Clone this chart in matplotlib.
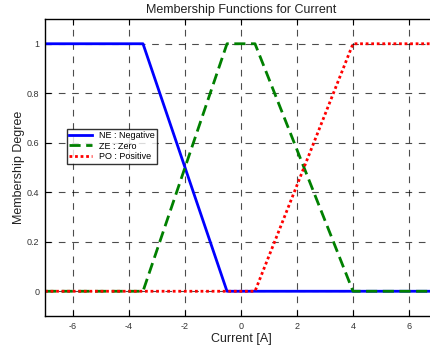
import matplotlib
matplotlib.use("Agg")
import matplotlib.pyplot as plt
import numpy as np

x_ne = [-7, -3.5, -0.5, 7]
y_ne = [1, 1, 0, 0]
x_ze = [-7, -3.5, -0.5, 0.5, 4, 7]
y_ze = [0, 0, 1, 1, 0, 0]
x_po = [-7, 0.5, 4, 7]
y_po = [0, 0, 1, 1]
labels = ["NE : Negative", "ZE : Zero", "PO : Positive"]

plt.rcParams["font.family"] = ["Liberation Sans", "DejaVu Sans"]
plt.rcParams["axes.unicode_minus"] = False

W, H = 430, 350
fig = plt.figure(figsize=(W/100, H/100), dpi=100)
ax = fig.add_axes([45/W, 1-316/H, (437-45)/W, (316-19)/H])
ax.plot(x_ne, y_ne, color="#0000ff", lw=2, ls="-", label=labels[0])
ax.plot(x_ze, y_ze, color="#008000", lw=2, ls=(0, (4, 2)), label=labels[1])
ax.plot(x_po, y_po, color="#ff0000", lw=2, ls=(0, (1, 1)), label=labels[2])
ax.set_xlim(-7, 7)
ax.set_ylim(-0.1, 1.1)
ax.set_xticks([-6, -4, -2, 0, 2, 4, 6])
ax.set_yticks([0, 0.2, 0.4, 0.6, 0.8, 1])
ax.set_yticklabels(["0", "0.2", "0.4", "0.6", "0.8", "1"])
ax.grid(True, color="black", ls=(0, (6, 6)), lw=0.8, alpha=0.7)
ax.tick_params(direction="in", top=True, right=True, labelsize=6.5, length=4, pad=4,
               labelcolor="#333333")
for s in ax.spines.values():
    s.set_linewidth(1)
ax.set_title("Membership Functions for Current", fontsize=9, pad=4, color="#222222")
ax.set_xlabel("Current [A]", fontsize=9, labelpad=2, color="#222222")
ax.set_ylabel("Membership Degree", fontsize=9, color="#222222", labelpad=1)
leg = ax.legend(loc="upper left", bbox_to_anchor=((62-45)/392, 1-(124-19)/297),
                fontsize=6.5, frameon=True, fancybox=False, edgecolor="black",
                handlelength=2.5, borderpad=0.3, labelspacing=0.15)
leg.get_frame().set_linewidth(1)
fig.savefig("out.png", dpi=100)
